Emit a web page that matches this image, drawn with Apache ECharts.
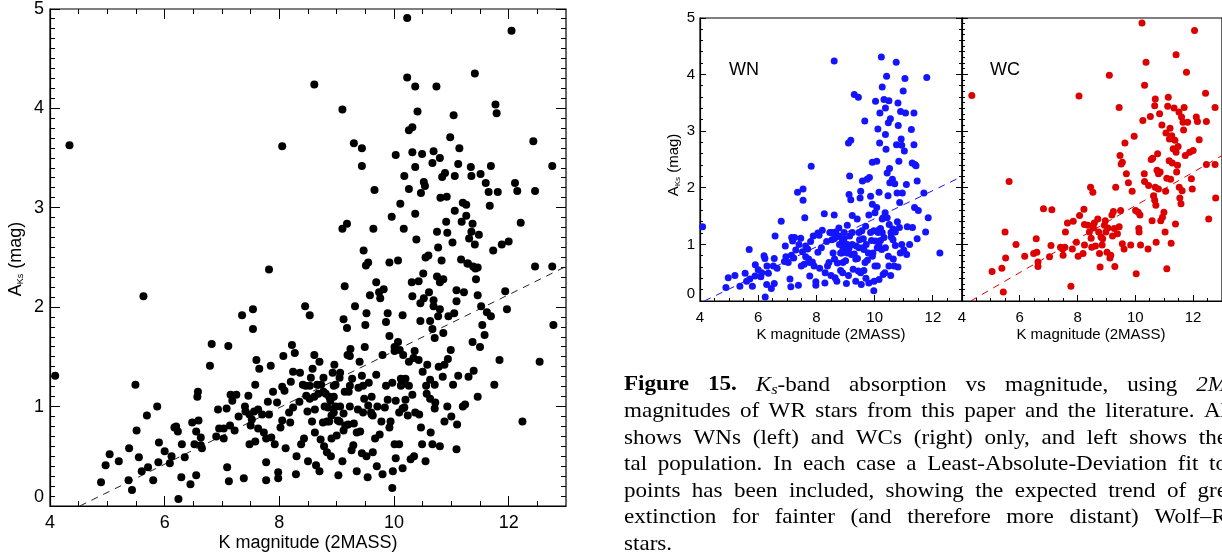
<!DOCTYPE html>
<html>
<head>
<meta charset="utf-8">
<script src="https://cdn.jsdelivr.net/npm/echarts@6/dist/echarts.min.js"></script>
<style>
html,body{margin:0;padding:0;background:#fff;overflow:hidden}
#c{width:1222px;height:554px}
</style>
</head>
<body>
<div id="c"></div>
<script>
// ---------------- data ----------------
const xTicks = [4, 6, 8, 10, 12];
const yTicks = [0, 1, 2, 3, 4, 5];
const xRange = [4, 13];
const yRange = [0, 5];

// WN stars: [K magnitude (2MASS), A_Ks]
const wnStars = [
[4.09,1.31],[4.89,0.24],[4.97,0.41],[5.37,0.26],[5.55,0.49],[5.69,0.91],[5.71,0.39],[5.8,0.26],[5.9,0.64],[5.89,0.44],
[6.09,0.43],[6.12,0.5],[6.2,0.8],[6.23,0.75],[6.24,0.07],[6.29,0.29],[6.35,0.49],[6.45,0.22],[6.55,0.31],[6.52,0.62],
[6.55,0.75],[6.58,1.15],[6.79,1.41],[6.93,0.97],[6.95,0.78],[7.03,0.68],[7.09,0.39],[7.12,0.25],[7.14,0.81],[7.15,1.12],
[7.18,1.06],[7.22,0.76],[7.29,0.9],[7.35,1.92],[7.38,0.28],[7.46,1.11],[7.48,0.62],[7.54,1.98],[7.54,1.78],[7.52,0.87],
[7.58,0.65],[7.6,1.47],[7.63,0.97],[7.63,0.78],[7.73,0.74],[7.77,0.68],[7.77,0.44],[7.82,2.38],[7.86,0.69],[7.89,1.15],
[7.92,0.62],[7.98,0.34],[7.98,0.28],[8.05,0.86],[8.09,1.16],[8.11,0.58],[8.17,0.94],[8.2,1.25],[8.27,1.54],[8.29,0.32],
[8.38,0.62],[8.43,0.68],[8.46,1.21],[8.53,1.08],[8.57,0.85],[8.61,4.24],[8.61,1.52],[8.62,0.74],[8.64,0.41],[8.66,1.22],
[8.7,0.35],[8.72,0.67],[8.77,1.29],[8.79,1.0],[8.83,0.54],[8.87,0.85],[8.89,1.06],[8.91,0.68],[8.95,0.94],[8.98,1.0],
[9.0,0.71],[9.03,0.31],[9.06,1.34],[9.1,2.79],[9.12,1.88],[9.14,2.21],[9.14,1.15],[9.18,2.84],[9.18,1.79],[9.2,0.82],
[9.23,1.51],[9.23,1.21],[9.26,0.56],[9.3,3.65],[9.35,0.74],[9.37,0.97],[9.4,1.45],[9.44,3.6],[9.44,0.53],[9.46,1.21],
[9.5,1.82],[9.52,1.94],[9.54,0.29],[9.58,2.12],[9.6,0.94],[9.61,1.1],[9.66,3.18],[9.67,0.68],[9.69,1.32],[9.74,2.15],
[9.78,0.85],[9.8,1.52],[9.8,0.32],[9.82,2.18],[9.86,1.85],[9.89,1.07],[9.92,2.45],[9.92,1.71],[9.94,0.85],[9.97,0.18],
[9.98,0.35],[10.01,1.56],[10.03,3.53],[10.07,2.47],[10.07,1.65],[10.09,0.62],[10.11,3.04],[10.15,1.26],[10.15,1.92],[10.17,2.79],
[10.18,3.32],[10.23,4.31],[10.24,0.91],[10.26,3.78],[10.29,0.47],[10.32,3.56],[10.34,1.49],[10.37,3.41],[10.37,2.94],[10.39,2.68],
[10.41,3.97],[10.43,2.26],[10.46,1.86],[10.47,3.15],[10.49,3.54],[10.51,2.34],[10.52,2.09],[10.54,3.22],[10.57,1.13],[10.61,2.15],
[10.63,1.27],[10.64,0.74],[10.69,2.07],[10.71,0.98],[10.74,4.22],[10.75,2.76],[10.77,1.91],[10.8,3.5],[10.81,3.1],[10.83,2.47],
[10.86,1.74],[10.88,0.85],[10.89,3.35],[10.91,2.86],[10.93,2.75],[10.95,1.91],[10.98,3.71],[11.02,2.65],[11.04,3.93],[11.06,3.32],
[11.09,2.06],[11.12,1.31],[11.26,3.03],[11.29,2.44],[11.35,3.32],[11.35,2.76],[11.37,1.65],[11.38,2.41],[11.42,2.39],[11.46,2.12],
[11.46,1.1],[11.69,1.91],[11.75,1.22],[11.79,3.95],[11.84,1.47],[12.24,0.85],
[9.46,0.94],[9.63,0.91],[9.71,1.0],[9.86,1.21],[9.97,1.24],[10.03,1.06],[10.09,0.94],[10.15,0.98],[10.2,1.07],[10.26,1.21],
[10.32,1.12],[10.37,0.94],[9.92,0.79],[9.75,0.72],[9.52,0.5],[9.63,0.54],[10.01,0.62],[10.15,0.38],[10.49,0.62],[10.47,0.79],[10.67,0.62],
[8.77,1.15],[8.95,1.1],[9.06,1.0],[8.95,1.21],[8.53,1.21],[8.61,1.1],[8.68,1.13],[8.83,0.85],[8.91,0.91],[9.05,0.85],
[9.12,0.93],[9.23,1.0],[9.3,0.83],[9.41,0.75],[9.48,1.08],[9.56,1.24],
[10.12,1.21],[10.2,1.28],[10.26,1.45],[10.36,1.56],[10.43,1.47],[10.5,1.35],[10.56,1.21],[10.63,1.08],[10.71,1.22],[10.78,1.4],
[10.85,1.3],[10.93,1.0],[11.0,0.9],[11.1,0.82],
[8.35,1.05],[8.05,1.2],[7.8,1.05],[7.7,0.92],[7.4,1.0],[7.25,1.12],[6.9,0.7],[6.65,0.58],[6.3,0.62],[6.0,0.55],[5.6,0.35],[5.2,0.45],
[8.3,0.5],[8.5,0.45],[8.9,0.5],[9.1,0.45],[9.35,0.35],[9.7,0.4],[10.35,0.5],[10.55,0.45],[10.8,0.6],[11.2,1.0],[11.3,1.3],[11.5,1.6]
];

// WC stars: [K magnitude (2MASS), A_Ks]
const wcStars = [
[4.34,3.63],[5.04,0.52],[5.38,0.58],[5.43,0.16],[5.49,1.22],[5.51,0.76],[5.63,2.11],[5.87,1.0],[6.17,0.79],[6.48,0.84],
[6.57,1.1],[6.59,0.86],[6.63,0.69],[6.63,0.61],[6.82,1.63],[7.03,0.78],[7.08,0.98],[7.11,1.61],[7.41,0.95],[7.48,0.92],
[7.5,0.81],[7.56,0.95],[7.58,1.22],[7.65,1.38],[7.77,0.26],[7.82,0.92],[7.85,1.41],[7.96,1.04],[8.02,0.79],[8.05,3.62],
[8.07,1.51],[8.19,0.84],[8.22,1.62],[8.24,0.99],[8.24,1.35],[8.36,1.34],[8.41,1.22],[8.45,2.01],[8.47,1.11],[8.49,0.95],
[8.53,1.92],[8.55,1.29],[8.58,1.38],[8.62,0.97],[8.7,1.45],[8.73,1.22],[8.76,0.84],[8.78,0.6],[8.81,1.13],[8.85,0.99],
[8.87,1.1],[8.93,1.34],[8.96,1.42],[8.98,1.22],[9.02,0.86],[9.05,1.29],[9.1,3.99],[9.12,0.76],[9.15,0.81],[9.19,1.52],
[9.21,1.15],[9.24,1.58],[9.27,1.28],[9.29,0.61],[9.32,2.01],[9.38,1.19],[9.44,1.31],[9.44,3.42],[9.47,2.57],[9.49,1.6],
[9.51,2.42],[9.55,2.45],[9.55,1.01],[9.61,0.92],[9.64,2.79],[9.69,2.25],[9.76,2.09],[9.84,0.99],[9.89,1.94],[9.96,2.91],
[10.01,1.6],[10.03,0.48],[10.1,1.57],[10.12,1.28],[10.13,1.22],[10.16,1.52],[10.18,0.99],[10.23,4.91],[10.26,3.19],[10.31,2.25],
[10.32,2.11],[10.32,3.81],[10.37,4.22],[10.44,0.92],[10.46,2.04],[10.52,3.26],[10.55,2.5],[10.58,1.42],[10.6,2.52],[10.63,1.86],
[10.67,1.78],[10.67,3.45],[10.69,3.57],[10.69,2.01],[10.71,1.69],[10.72,1.04],[10.75,2.31],[10.77,2.6],[10.8,2.25],[10.8,1.98],
[10.84,3.31],[10.86,2.28],[10.88,1.42],[10.92,3.11],[10.94,1.48],[10.99,1.57],[11.03,1.22],[11.05,1.94],[11.06,2.97],[11.09,2.17],
[11.09,0.57],[11.12,3.44],[11.14,3.6],[11.17,2.48],[11.18,2.86],[11.2,3.05],[11.22,2.15],[11.24,1.02],[11.26,2.92],[11.28,2.44],
[11.31,2.69],[11.34,3.41],[11.37,2.84],[11.39,1.36],[11.41,4.35],[11.41,2.63],[11.43,2.28],[11.46,2.4],[11.48,2.73],[11.51,3.34],
[11.52,2.01],[11.54,1.82],[11.58,1.72],[11.6,3.25],[11.62,1.95],[11.65,3.16],[11.67,3.02],[11.69,3.42],[11.73,2.57],[11.77,4.04],
[11.81,3.16],[11.88,2.63],[11.94,2.16],[11.97,1.98],[12.0,2.66],[12.05,4.78],[12.11,3.25],[12.15,3.17],[12.21,2.85],[12.43,3.67],
[12.46,3.17],[12.46,2.41],[12.54,1.45],[12.76,3.42],[12.76,2.41],[12.78,1.82]
];

// Least-absolute-deviation fits (end points)
const allFit = [[4.52, 0], [13, 2.41]];
const wnFit = [[4.15, 0], [13, 2.2]];
const wcFit = [[4.3, 0], [13, 2.57]];

const panelLabels = ['WN', 'WC'];
const xTitle = 'K magnitude (2MASS)';

const captionLines = [
  [[['Figure','b']], [['15.','b']], [['K','i'],['s','is'],['-band','r']], 'absorption', 'vs', 'magnitude,', 'using', [['2M','i']]],
  'magnitudes of WR stars from this paper and the literature. Al',
  'shows WNs (left) and WCs (right) only, and left shows the',
  'tal population. In each case a Least-Absolute-Deviation fit to',
  'points has been included, showing the expected trend of gre',
  'extinction for fainter (and therefore more distant) Wolf\u2013R',
  'stars.'
];

// ---------------- styling / layout ----------------
const SANS = '"Liberation Sans", Arial, Helvetica, sans-serif';
const SERIF = '"Liberation Serif", "Times New Roman", serif';
const BLUE = '#1414ff';
const RED = '#dc0000';

const panels = [
  {left:50, top:8, width:516, height:498, fs:18, maj:10, min:5, yMinorStep:0.1, yLabels:true, sides:{bottom:1, top:1, left:1, right:1}, lm:6, xm:8},
  {left:700, top:18, width:262, height:283, fs:15, maj:6, min:3, yMinorStep:0.2, yLabels:true, sides:{bottom:1, top:0, left:1, right:1}, lm:5, xm:9},
  {left:962, top:18, width:263, height:283, fs:15, maj:6, min:3, yMinorStep:0.1, yLabels:false, sides:{bottom:1, top:0, left:1, right:0}, lm:5, xm:9}
];

const grid = [], xAxis = [], yAxis = [];
panels.forEach((p, g) => {
  grid.push({left: p.left, top: p.top, width: p.width, height: p.height, show: true,
             borderColor: '#000', borderWidth: 1.2, backgroundColor: 'transparent', containLabel: false});
  xAxis.push({gridIndex: g, type: 'value', position: 'bottom', min: xRange[0], max: xRange[1], interval: 2,
    axisLine: {show: true, onZero: false, lineStyle: {color: '#000', width: 1.2}},
    axisTick: {show: false}, splitLine: {show: false},
    axisLabel: {show: true, fontSize: p.fs, fontFamily: SANS, color: '#000', margin: p.xm, showMaxLabel: false}});
  yAxis.push({gridIndex: g, type: 'value', position: 'left', min: yRange[0], max: yRange[1], interval: 1,
    axisLine: {show: true, onZero: false, lineStyle: {color: '#000', width: 1.2}},
    axisTick: {show: false}, splitLine: {show: false},
    axisLabel: p.yLabels ? {show: true, fontSize: p.fs, fontFamily: SANS, color: '#000', margin: p.lm, verticalAlignMinLabel: 'bottom'} : {show: false}});
});

function fitSeries(g, data, color) {
  return {type: 'line', xAxisIndex: g, yAxisIndex: g, data: data, symbol: 'none', silent: true,
          lineStyle: {type: [7, 6], width: 1, color: color}, z: 1, animation: false};
}
function dotSeries(g, data, color, size) {
  return {type: 'scatter', xAxisIndex: g, yAxisIndex: g, data: data, symbol: 'circle', symbolSize: size,
          itemStyle: {color: color, opacity: 1}, silent: true, z: 2, animation: false};
}

const series = [
  fitSeries(0, allFit, '#222'),
  dotSeries(0, wnStars, '#000', 8),
  dotSeries(0, wcStars, '#000', 8),
  fitSeries(1, wnFit, BLUE),
  dotSeries(1, wnStars, BLUE, 7),
  fitSeries(2, wcFit, RED),
  dotSeries(2, wcStars, RED, 7)
];

// ---------------- text (titles, caption) ----------------
const graphic = [];
function txt(x, y, text, font, align) {
  return {type: 'text', x: x, y: y, silent: true,
    style: {text: text, font: font, fill: '#000', align: align || 'center', verticalAlign: 'middle',
            textAlign: align || 'center', textVerticalAlign: 'middle'}};
}
function yTitle(x, y, fs, sub) {
  return {type: 'text', x: x, y: y, rotation: Math.PI / 2, silent: true,
    style: {text: '{a|A}{s|Ks}{a| (mag)}', fill: '#000', align: 'center', verticalAlign: 'middle',
            textAlign: 'center', textVerticalAlign: 'middle',
            rich: {a: {fontSize: fs, fontFamily: SANS, fill: '#000', verticalAlign: 'middle'},
                   s: {fontSize: sub, fontFamily: SANS, fill: '#000', verticalAlign: 'bottom'}}}};
}
graphic.push(txt(308, 543, xTitle, '18px ' + SANS));
graphic.push(txt(831, 334.5, xTitle, '15px ' + SANS));
graphic.push(txt(1091, 334.5, xTitle, '15px ' + SANS));
graphic.push(yTitle(16, 259, 18, 9));
graphic.push(yTitle(674, 165, 15, 8));
graphic.push(txt(729, 70, panelLabels[0], '18px ' + SANS, 'left'));
graphic.push(txt(990, 70, panelLabels[1], '18px ' + SANS, 'left'));

// caption, justified word by word (horizontally stretched serif to mimic Computer Modern)
const capSize = 21, capStretch = 1.1;
function capFont(st) {
  const size = st === 'is' ? 15 : capSize;
  const style = (st === 'i' || st === 'is') ? 'italic' : 'normal';
  const weight = st === 'b' ? 'bold' : 'normal';
  return style + ' ' + weight + ' ' + size + 'px ' + SERIF;
}
const mctx = document.createElement('canvas').getContext('2d');
function measure(t, st) { mctx.font = capFont(st); return mctx.measureText(t).width * capStretch; }
function normLine(line) {
  const words = typeof line === 'string' ? line.split(' ') : line;
  return words.map(w => typeof w === 'string' ? [[w, 'r']] : w);
}
const capX0 = 624, capX1 = 1227, capY0 = 385, capDY = 26.5;
captionLines.forEach((line, li) => {
  const words = normLine(line);
  const widths = words.map(w => w.reduce((s, seg) => s + measure(seg[0], seg[1]), 0));
  const total = widths.reduce((a, b) => a + b, 0);
  const last = li === captionLines.length - 1;
  const gap = last ? measure(' ', 'r') : (capX1 - capX0 - total) / (words.length - 1);
  let x = capX0;
  const y = capY0 + li * capDY;
  words.forEach((w, wi) => {
    let sx = x;
    w.forEach(seg => {
      graphic.push({type: 'text', x: sx, y: y + (seg[1] === 'is' ? 5 : 0), scaleX: capStretch, silent: true,
        style: {text: seg[0], font: capFont(seg[1]), fill: '#000', align: 'left', verticalAlign: 'middle',
                textAlign: 'left', textVerticalAlign: 'middle'}});
      sx += measure(seg[0], seg[1]);
    });
    x += widths[wi] + gap;
  });
});

const chart = echarts.init(document.getElementById('c'), null, {renderer: 'canvas', width: 1222, height: 554});
chart.setOption({
  animation: false,
  backgroundColor: '#fff',
  grid: grid, xAxis: xAxis, yAxis: yAxis, series: series, graphic: graphic
});

// ---------------- inward ticks on the frames (positions from the library's own axes) ----------------
function minorList(a, b, step, majors) {
  const out = [];
  const n = Math.round((b - a) / step);
  for (let i = 1; i < n; i++) {
    const v = +(a + i * step).toFixed(3);
    if (majors.indexOf(v) < 0) out.push(v);
  }
  return out;
}
const tickEls = [];
panels.forEach((p, g) => {
  const px = v => chart.convertToPixel({xAxisIndex: g, yAxisIndex: g}, v);
  const bar = (x, y, w, h) => tickEls.push({type: 'rect', silent: true, z: 50,
    shape: {x: x, y: y, width: w, height: h}, style: {fill: '#000', stroke: null}});
  const xs = xTicks.map(v => [v, p.maj]).concat(minorList(xRange[0], xRange[1], 0.5, xTicks).map(v => [v, p.min]));
  const ys = yTicks.map(v => [v, p.maj]).concat(minorList(yRange[0], yRange[1], p.yMinorStep, yTicks).map(v => [v, p.min]));
  xs.forEach(([v, len]) => {
    if (p.sides.bottom) { const c = px([v, yRange[0]]); bar(Math.floor(c[0]), c[1] - len, 1, len); }
    if (p.sides.top) { const c = px([v, yRange[1]]); bar(Math.floor(c[0]), c[1], 1, len); }
  });
  ys.forEach(([v, len]) => {
    if (p.sides.left) { const c = px([xRange[0], v]); bar(c[0], Math.floor(c[1]), len, 1); }
    if (p.sides.right) { const c = px([xRange[1], v]); bar(c[0] - len, Math.floor(c[1]), len, 1); }
  });
});
chart.setOption({graphic: graphic.concat(tickEls)});
</script>
</body>
</html>
